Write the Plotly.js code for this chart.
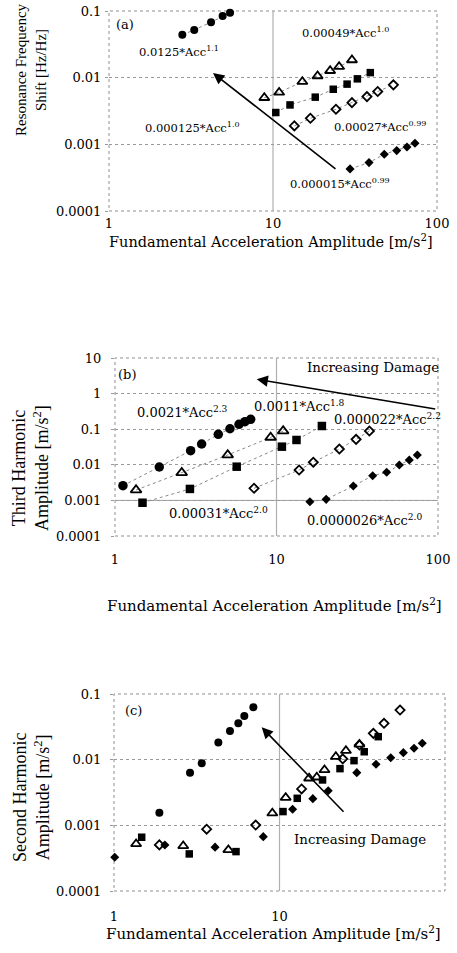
<!DOCTYPE html>
<html>
<head>
<meta charset="utf-8">
<script src="https://cdn.plot.ly/plotly-3.0.1.min.js"></script>
<style>html,body{margin:0;padding:0;background:#fff;}#chart{width:457px;height:953px;}</style>
</head>
<body>
<div id="chart"></div>
<script>
// ---------- Panel (a): Resonance frequency shift ----------
const aCircX = [2.80, 3.31, 4.19, 4.93, 5.47, 6.05];
const aCircY = [0.044, 0.052, 0.068, 0.084, 0.094, 0.102];
const aTriX = [8.85, 10.9, 15.1, 18.7, 22.3, 25.3, 30.3];
const aTriY = [0.0050, 0.0060, 0.0087, 0.0106, 0.0127, 0.0146, 0.0184];
const aSqX = [10.4, 12.7, 18.1, 23.3, 28.3, 32.7, 39.2];
const aSqY = [0.0030, 0.0039, 0.0051, 0.0067, 0.0080, 0.0096, 0.0119];
const aOpenDiaX = [13.5, 16.9, 24.2, 30.3, 37.4, 43.5, 54.2];
const aOpenDiaY = [0.00189, 0.00246, 0.00336, 0.00422, 0.0052, 0.0062, 0.0078];
const aDiaX = [29.5, 38.5, 47.7, 56.8, 65.6, 73.4];
const aDiaY = [0.000428, 0.000532, 0.000711, 0.000805, 0.000914, 0.00104];

// ---------- Panel (b): Third harmonic ----------
const bCircX = [1.12, 1.88, 2.94, 3.44, 4.36, 5.15, 5.86, 6.38, 6.92];
const bCircY = [0.00259, 0.00867, 0.0249, 0.0384, 0.0718, 0.103, 0.137, 0.163, 0.19];
const bTriX = [1.35, 2.59, 4.99, 9.2, 11.0];
const bTriY = [0.00196, 0.0060, 0.0188, 0.059, 0.089];
const bSqX = [1.48, 2.91, 5.67, 10.8, 13.3, 19.1];
const bSqY = [0.00086, 0.0021, 0.00885, 0.0323, 0.0498, 0.123];
const bOpenDiaX = [7.26, 13.8, 16.9, 24.5, 31.1, 37.6];
const bOpenDiaY = [0.00219, 0.00714, 0.0118, 0.0278, 0.052, 0.089];
const bDiaX = [16.1, 20.3, 29.9, 39.4, 48.1, 57.6, 66.4, 74.5];
const bDiaY = [0.00092, 0.00107, 0.00253, 0.00494, 0.00615, 0.00986, 0.0137, 0.0188];

// ---------- Panel (c): Second harmonic ----------
const cCircX = [1.88, 2.88, 3.39, 4.27, 5.02, 5.64, 6.13, 6.95];
const cCircY = [0.00156, 0.00634, 0.0088, 0.0182, 0.0274, 0.0358, 0.0462, 0.0627];
const cTriX = [1.36, 2.62, 4.91, 9.05, 10.9, 15.1, 16.8, 18.7, 21.9, 25.2, 30.4];
const cTriY = [0.000521, 0.000485, 0.000423, 0.00153, 0.00264, 0.00521, 0.0054, 0.00697, 0.0111, 0.0137, 0.0171];
const cSqX = [1.47, 2.85, 5.46, 10.5, 12.8, 18.2, 23.2, 28.2, 32.5, 39.5];
const cSqY = [0.000659, 0.000367, 0.000398, 0.00162, 0.00258, 0.00491, 0.0073, 0.00966, 0.0132, 0.0224];
const cOpenDiaX = [1.88, 3.63, 7.18, 13.6, 24.1, 30.4, 36.9, 42.8, 53.5];
const cOpenDiaY = [0.000503, 0.000873, 0.00101, 0.00358, 0.0103, 0.0167, 0.0252, 0.0358, 0.057];
const cDiaX = [1.01, 2.03, 4.08, 7.98, 12.0, 15.9, 19.7, 29.3, 38.3, 47.0, 56.0, 65.0, 72.9];
const cDiaY = [0.000327, 0.000503, 0.000465, 0.000673, 0.00176, 0.00255, 0.00337, 0.00634, 0.00851, 0.0107, 0.0128, 0.0149, 0.0178];

// ---------- Tick labels ----------
const xTickVals = [1, 10, 100];
const xTickText = ['1', '10', '100'];
const aYTickVals = [0.0001, 0.001, 0.01, 0.1];
const aYTickText = ['0.0001', '0.001', '0.01', '0.1'];
const bYTickVals = [0.0001, 0.001, 0.01, 0.1, 1, 10];
const bYTickText = ['0.0001', '0.001', '0.01', '0.1', '1', '10'];
const cYTickVals = [0.0001, 0.001, 0.01, 0.1];
const cYTickText = ['0.0001', '0.001', '0.01', '0.1'];

const SERIF = 'DejaVu Serif, serif';
const TIMES = 'Liberation Serif, Times New Roman, serif';
const W = 457, H = 953;

function series(xs, ys, symbol, size, xa, ya, withLine) {
  const open = symbol.indexOf('open') >= 0;
  return {
    x: xs, y: ys, xaxis: xa, yaxis: ya, type: 'scatter',
    mode: withLine ? 'lines+markers' : 'markers',
    cliponaxis: false,
    line: {color: '#8a8a8a', width: 1, dash: 'dot'},
    marker: {symbol: symbol, size: size, color: '#000',
             line: {color: '#000', width: open ? 1.8 : 0}},
    showlegend: false, hoverinfo: 'x+y'
  };
}

const traces = [
  series(aCircX, aCircY, 'circle', 8, 'x', 'y', true),
  series(aTriX, aTriY, 'triangle-up-open', 9, 'x', 'y', true),
  series(aSqX, aSqY, 'square', 7.5, 'x', 'y', true),
  series(aOpenDiaX, aOpenDiaY, 'diamond-open', 7, 'x', 'y', true),
  series(aDiaX, aDiaY, 'diamond', 7, 'x', 'y', true),

  series(bCircX, bCircY, 'circle', 9.5, 'x2', 'y2', true),
  series(bTriX, bTriY, 'triangle-up-open', 9.5, 'x2', 'y2', true),
  series(bSqX, bSqY, 'square', 8.5, 'x2', 'y2', true),
  series(bOpenDiaX, bOpenDiaY, 'diamond-open', 7, 'x2', 'y2', true),
  series(bDiaX, bDiaY, 'diamond', 7, 'x2', 'y2', true),

  series(cCircX, cCircY, 'circle', 8, 'x3', 'y3', false),
  series(cTriX, cTriY, 'triangle-up-open', 9, 'x3', 'y3', false),
  series(cSqX, cSqY, 'square', 7.5, 'x3', 'y3', false),
  series(cOpenDiaX, cOpenDiaY, 'diamond-open', 7, 'x3', 'y3', false),
  series(cDiaX, cDiaY, 'diamond', 7, 'x3', 'y3', false)
];

// pixel boxes of the plot areas
const boxA = {l: 109, r: 437, t: 11, b: 211};
const boxB = {l: 115, r: 438, t: 358, b: 536};
const boxC = {l: 114, r: 445, t: 694, b: 891};
const dx = b => [b.l / W, b.r / W];
const dy = b => [1 - b.b / H, 1 - b.t / H];

function xAxis(box, anchor, standoff) {
  return {
    type: 'log', range: [0, 2], domain: dx(box), anchor: anchor,
    tickmode: 'array', tickvals: xTickVals, ticktext: xTickText,
    showgrid: false, zeroline: false, showline: false, ticks: '',
    ticklabelstandoff: standoff,
    tickfont: {family: SERIF, size: 13, color: '#000'}, fixedrange: true
  };
}
function yAxis(box, anchor, range, vals, text, standoff) {
  return {
    type: 'log', range: range, domain: dy(box), anchor: anchor,
    tickmode: 'array', tickvals: vals, ticktext: text,
    showgrid: true, gridcolor: '#9a9a9a', griddash: 'dot', gridwidth: 1,
    zeroline: false, showline: false, ticks: 'outside', ticklen: 3,
    tickcolor: '#999', ticklabelstandoff: standoff,
    tickfont: {family: SERIF, size: 13, color: '#000'}, fixedrange: true
  };
}

const px = v => v / W, py = v => 1 - v / H;

function txt(text, x, y, size, xanchor, family) {
  return {text: text, xref: 'paper', yref: 'paper', x: px(x), y: py(y),
          xanchor: xanchor || 'left', yanchor: 'middle', showarrow: false,
          font: {family: family || SERIF, size: size, color: '#000'}};
}
function ytitle(text, x, y, size) {
  return {text: text, xref: 'paper', yref: 'paper', x: px(x), y: py(y),
          xanchor: 'center', yanchor: 'middle', showarrow: false, textangle: -90,
          font: {family: TIMES, size: size, color: '#000'}};
}
function arrow(hx, hy, tx, ty) {
  return {text: '', xref: 'paper', yref: 'paper', x: px(hx), y: py(hy),
          ax: tx - hx, ay: ty - hy, axref: 'pixel', ayref: 'pixel',
          showarrow: true, arrowhead: 2, arrowsize: 1.4, arrowwidth: 1.6,
          arrowcolor: '#000', standoff: 0};
}
const xTitle = 'Fundamental Acceleration Amplitude [m/s<sup>2</sup>]';

const annotations = [
  // panel a
  txt('(a)', 125, 25, 13, 'center'),
  txt('0.0125*Acc<sup>1.1</sup>', 137, 52, 11.5),
  txt('0.00049*Acc<sup>1.0</sup>', 300, 33, 11.5),
  txt('0.000125*Acc<sup>1.0</sup>', 143, 127, 11.5),
  txt('0.00027*Acc<sup>0.99</sup>', 332, 126, 11.5),
  txt('0.000015*Acc<sup>0.99</sup>', 288, 184, 11.5),
  arrow(213, 73, 337, 170),
  ytitle('Resonance Frequency<br>Shift [Hz/Hz]', 31, 70, 15),
  txt(xTitle, 271, 241, 14.5, 'center'),
  // panel b
  txt('(b)', 127, 374, 13, 'center'),
  txt('Increasing Damage', 305, 368, 13.4),
  txt('0.0021*Acc<sup>2.3</sup>', 135, 412, 13),
  txt('0.0011*Acc<sup>1.8</sup>', 252, 406, 13),
  txt('0.000022*Acc<sup>2.2</sup>', 332, 419, 13),
  txt('0.00031*Acc<sup>2.0</sup>', 167, 513, 13),
  txt('0.0000026*Acc<sup>2.0</sup>', 305, 520, 13),
  arrow(256.7, 379.3, 436.7, 409.3),
  ytitle('Third Harmonic<br>Amplitude [m/s<sup>2</sup>]', 30, 468, 18),
  txt(xTitle, 274, 605, 15, 'center'),
  // panel c
  txt('(c)', 133, 710, 13, 'center'),
  txt('Increasing Damage', 292, 839, 13.4),
  arrow(261.7, 727.3, 345, 813.3),
  ytitle('Second Harmonic<br>Amplitude [m/s<sup>2</sup>]', 31, 798, 18),
  txt(xTitle, 273, 933, 15, 'center')
];

function frame(xa, ya) {
  return [
    {type: 'rect', xref: xa + ' domain', yref: ya + ' domain', x0: 0, x1: 1, y0: 0, y1: 1,
     line: {color: '#8f8f8f', width: 1, dash: 'dot'}, layer: 'below'},
    {type: 'line', xref: xa + ' domain', yref: ya + ' domain', x0: 0.5, x1: 0.5, y0: 0, y1: 1,
     line: {color: '#b0b0b0', width: 1.2}, layer: 'below'}
  ];
}
const shapes = [].concat(
  frame('x', 'y'), frame('x2', 'y2'), frame('x3', 'y3'),
  [{type: 'line', xref: 'x2 domain', yref: 'y2 domain', x0: 0, x1: 1, y0: 0.2, y1: 0.2,
    line: {color: '#a0a0a0', width: 1}, layer: 'below'}]
);

const layout = {
  width: W, height: H,
  margin: {l: 0, r: 0, t: 0, b: 0},
  paper_bgcolor: '#fff', plot_bgcolor: '#fff',
  showlegend: false,
  xaxis: xAxis(boxA, 'y', 3),
  yaxis: yAxis(boxA, 'x', [-4, -1], aYTickVals, aYTickText, 1),
  xaxis2: xAxis(boxB, 'y2', 14),
  yaxis2: yAxis(boxB, 'x2', [-4, 1], bYTickVals, bYTickText, 7),
  xaxis3: xAxis(boxC, 'y3', 16),
  yaxis3: yAxis(boxC, 'x3', [-4, -1], cYTickVals, cYTickText, 6),
  annotations: annotations,
  shapes: shapes
};

Plotly.newPlot('chart', traces, layout, {staticPlot: true, displayModeBar: false});
</script>
</body>
</html>
